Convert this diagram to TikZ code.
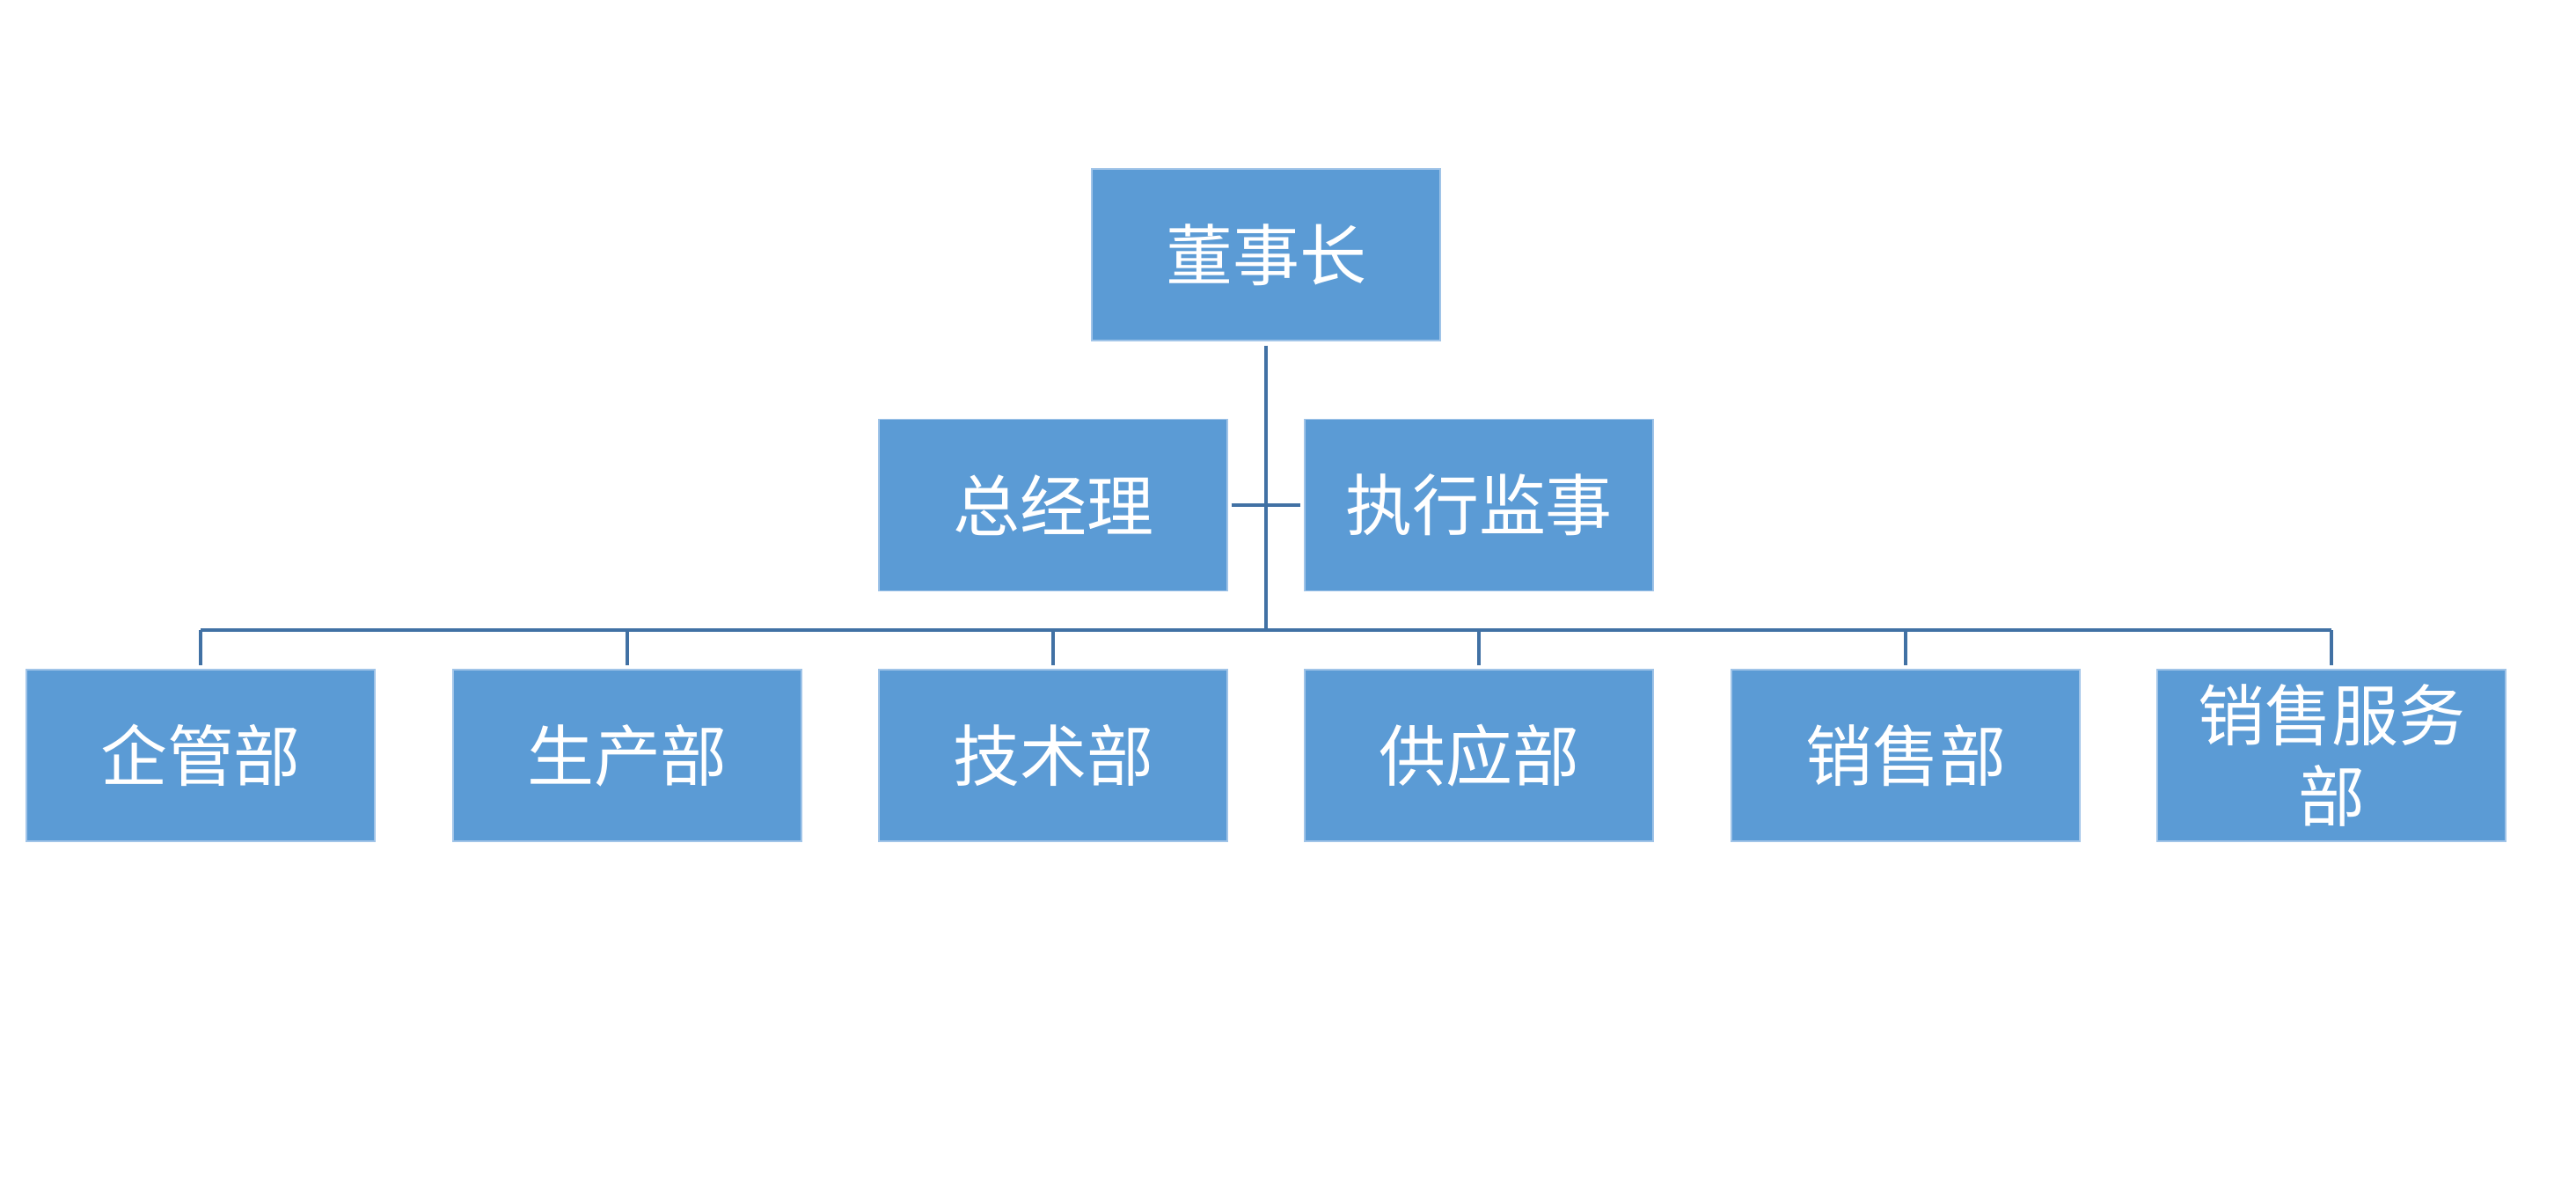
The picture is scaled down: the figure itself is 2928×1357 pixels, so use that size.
\documentclass[tikz,border=0pt]{standalone}
\usepackage{fontspec}
\newfontfamily\cjk{Noto Sans CJK SC}
\usepackage{xcolor}
\definecolor{orgblue}{RGB}{91, 155, 213}
\definecolor{orgedge}{RGB}{160, 196, 232}
\definecolor{orgline}{RGB}{65, 113, 164}
\usetikzlibrary{calc,positioning}

\begin{document}
\begin{tikzpicture}[x=0.01cm,y=-0.01cm,
    unit/.style={draw=orgedge, line width=0.4pt, fill=orgblue, text=white,
        minimum width=3.96cm, minimum height=1.95cm, inner sep=0pt,
        align=center, font=\cjk\fontsize{21.6pt}{26pt}\selectfont},
    link/.style={orgline, line width=1.2pt}]
    \useasboundingbox (0,0) rectangle (2928,1357);

    % Board
    \node[unit] (chair) at (1439, 289.5) {董事长};

    % Second level
    \node[unit] (gm)  at (1197, 574) {总经理};
    \node[unit] (sup) at (1681, 574) {执行监事};

    % Departments
    \node[unit] (d1) at (228, 858.5)  {企管部};
    \node[unit] (d2) at (713, 858.5)  {生产部};
    \node[unit] (d3) at (1197, 858.5) {技术部};
    \node[unit] (d4) at (1681, 858.5) {供应部};
    \node[unit] (d5) at (2166, 858.5) {销售部};
    \node[unit] (d6) at (2650, 858.5) {销售服务\\部};

    % Connectors
    \coordinate (bus) at (1439, 716);
    \draw[link, shorten <=1.4pt] (chair) -- (bus);
    \draw[link, shorten <=1.1pt, shorten >=1.1pt] (gm) -- (sup);
    \draw[link] (bus -| d1) -- (bus -| d6);
    \foreach \d in {d1,d2,d3,d4,d5,d6}
        \draw[link, shorten >=1.2pt] (bus -| \d) -- (\d);
\end{tikzpicture}
\end{document}
